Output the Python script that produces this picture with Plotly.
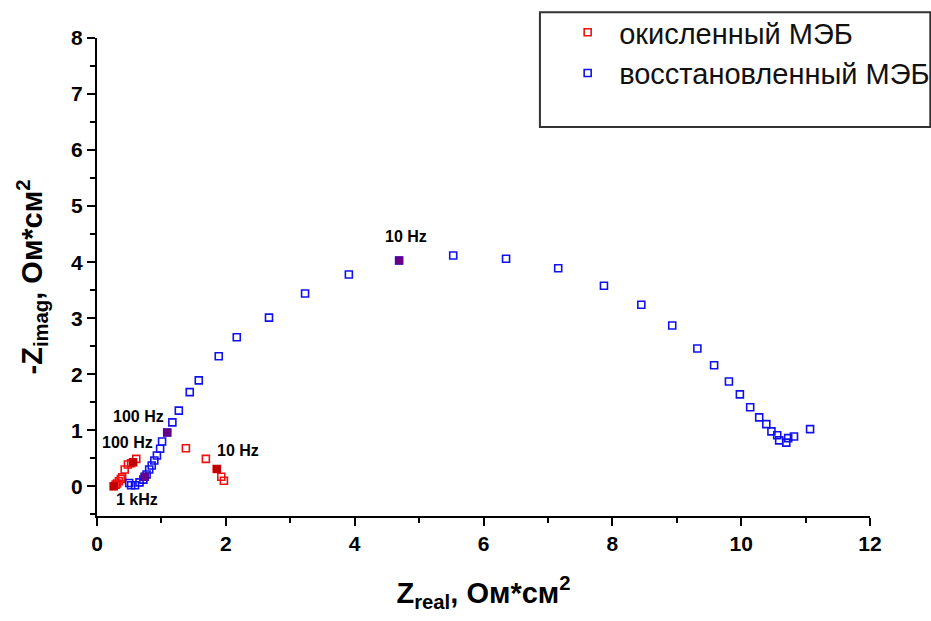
import plotly.graph_objects as go

# Nyquist data, Ohm*cm^2
ox_zreal = [0.26, 0.29, 0.31, 0.34, 0.37, 0.39, 0.43, 0.48, 0.53, 0.56, 0.61,
            1.38, 1.69, 1.86, 1.93, 1.97]
ox_zimag = [0.00, 0.03, 0.05, 0.09, 0.13, 0.16, 0.30, 0.39, 0.41, 0.43, 0.49,
            0.68, 0.49, 0.31, 0.17, 0.10]

red_zreal = [0.50, 0.53, 0.59, 0.66, 0.72, 0.74, 0.77, 0.81, 0.85, 0.89, 0.93,
             0.98, 1.01, 1.09, 1.17, 1.27, 1.44, 1.58, 1.89, 2.17, 2.67, 3.23,
             3.91, 4.69, 5.53, 6.35, 7.16, 7.87, 8.45, 8.93, 9.32, 9.58, 9.81,
             9.98, 10.14, 10.28, 10.39, 10.47, 10.56, 10.59, 10.70, 10.73,
             10.82, 11.07]
red_zimag = [0.06, 0.02, 0.02, 0.07, 0.12, 0.17, 0.21, 0.30, 0.37, 0.46, 0.55,
             0.67, 0.80, 0.96, 1.14, 1.35, 1.68, 1.89, 2.32, 2.66, 3.01, 3.44,
             3.78, 4.03, 4.12, 4.06, 3.89, 3.58, 3.24, 2.87, 2.46, 2.16, 1.87,
             1.64, 1.41, 1.23, 1.11, 0.98, 0.91, 0.82, 0.78, 0.86, 0.89, 1.02]

# frequency marks: 1 kHz, 100 Hz, 10 Hz
ox_freq_zreal = [0.26, 0.56, 1.86]
ox_freq_zimag = [0.00, 0.43, 0.31]
red_freq_zreal = [0.74, 1.09, 4.69]
red_freq_zimag = [0.17, 0.96, 4.03]

labels = ["1 kHz", "100 Hz", "100 Hz", "10 Hz", "10 Hz"]
label_x = [0.62, 0.47, 0.64, 2.19, 4.80]
label_y = [-0.24, 0.78, 1.25, 0.64, 4.46]

names = ["окисленный МЭБ", "восстановленный МЭБ"]

fig = go.Figure()
fig.add_trace(go.Scatter(
    x=ox_zreal, y=ox_zimag, mode="markers", name=names[0],
    marker=dict(symbol="square-open", size=7, color="#ee1111",
                line=dict(width=1.6))))
fig.add_trace(go.Scatter(
    x=red_zreal, y=red_zimag, mode="markers", name=names[1],
    marker=dict(symbol="square-open", size=7, color="#1111ee",
                line=dict(width=1.6))))
fig.add_trace(go.Scatter(
    x=ox_freq_zreal, y=ox_freq_zimag, mode="markers", showlegend=False,
    marker=dict(symbol="square", size=8, color="#c00000",
                line=dict(width=0))))
fig.add_trace(go.Scatter(
    x=red_freq_zreal, y=red_freq_zimag, mode="markers", showlegend=False,
    marker=dict(symbol="square", size=8, color="#660088",
                line=dict(width=0))))

for t, x, y in zip(labels, label_x, label_y):
    fig.add_annotation(x=x, y=y, text=t, showarrow=False,
                       font=dict(family="Liberation Sans, Arial", size=16,
                                 color="black", weight="bold"))

axis_common = dict(
    showline=True, linecolor="black", linewidth=2, mirror=False,
    showgrid=False, zeroline=False, ticks="outside", ticklen=8,
    tickwidth=2, tickcolor="black",
    tickfont=dict(family="Liberation Sans Narrow, Arial", size=21,
                  color="black", weight="bold"),
)

title_font = dict(family="Liberation Sans, Arial", size=29, color="black",
                  weight="bold")

fig.update_xaxes(
    range=[0, 12], dtick=2, tick0=0,
    minor=dict(dtick=1, ticks="outside", ticklen=5, tickwidth=1.5,
               tickcolor="black"),
    title=dict(text="Z<sub>real</sub>, Ом*см<sup>2</sup>", standoff=28,
               font=title_font),
    **axis_common)
fig.update_yaxes(
    range=[-0.53, 8.0], dtick=1, tick0=0,
    minor=dict(dtick=0.5, ticks="outside", ticklen=5, tickwidth=1.5,
               tickcolor="black"),
    title=dict(text="-Z<sub>imag</sub>, Ом*см<sup>2</sup>", standoff=20,
               font=title_font),
    **axis_common)

# legend frame
fig.add_shape(type="rect", xref="paper", yref="paper",
              x0=0.573, x1=1.078, y0=0.814, y1=1.054,
              line=dict(color="#333333", width=2), fillcolor="white",
              layer="below")

fig.update_layout(
    width=931, height=621,
    margin=dict(l=97, r=61, t=38, b=105, autoexpand=False),
    plot_bgcolor="white", paper_bgcolor="white",
    font=dict(family="Liberation Sans, Arial", color="black"),
    legend=dict(x=0.594, y=1.065, xanchor="left", yanchor="top",
                bgcolor="rgba(0,0,0,0)", borderwidth=0,
                font=dict(family="Liberation Sans, Arial", size=29,
                          color="#111111"),
                tracegroupgap=0, itemwidth=53),
)

fig.write_html("out.html")
